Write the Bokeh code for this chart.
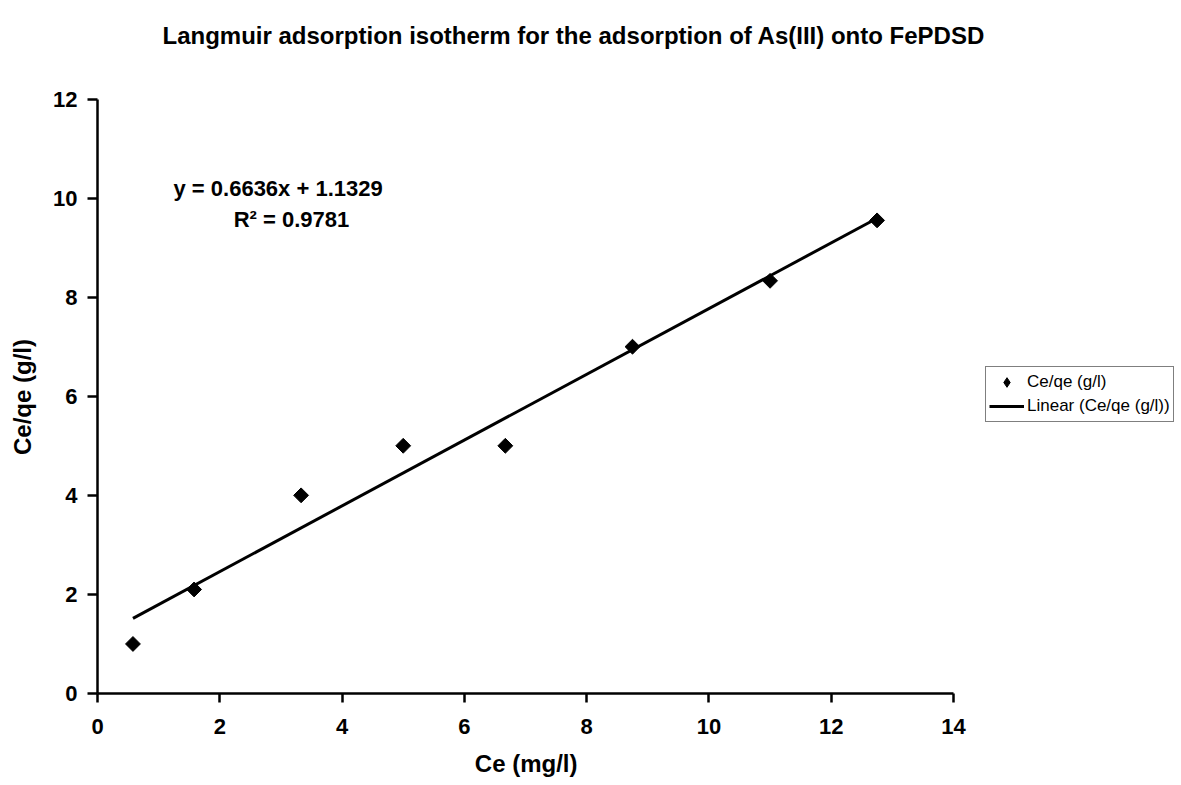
import numpy as np
from bokeh.plotting import figure
from bokeh.models import Range1d, FixedTicker, Label, Legend, LegendItem
from bokeh.embed import file_html
from bokeh.resources import INLINE

# ---- data ----
ce = [0.58, 1.58, 3.33, 5.0, 6.67, 8.75, 11.0, 12.75]          # Ce (mg/l)
ce_qe = [1.0, 2.1, 4.0, 5.0, 5.0, 7.0, 8.33, 9.55]             # Ce/qe (g/l)
slope = 0.6636
intercept = 1.1329
r2 = 0.9781
x_ticks = [0, 2, 4, 6, 8, 10, 12, 14]
y_ticks = [0, 2, 4, 6, 8, 10, 12]
x_axis_max = 14
y_axis_max = 12
title_text = "Langmuir adsorption isotherm for the adsorption of As(III) onto FePDSD"

FONT = "Liberation Sans"
W, H = 1181, 785
# pixel geometry of the axes (left/bottom of frame, where the axes end)
FL, FB = 97, 693
AX_R, AX_T = 953, 98.5
x_end = x_axis_max * (W - FL) / (AX_R - FL)
y_end = y_axis_max * FB / (FB - AX_T)

p = figure(width=W, height=H, output_backend="svg", toolbar_location=None,
           x_range=Range1d(0, x_end), y_range=Range1d(0, y_end),
           min_border_left=FL, min_border_right=0,
           min_border_top=0, min_border_bottom=H - FB)
p.outline_line_color = None
p.xgrid.visible = False
p.ygrid.visible = False
p.background_fill_color = "white"
p.border_fill_color = "white"

for ax, ticks in ((p.xaxis[0], x_ticks), (p.yaxis[0], y_ticks)):
    ax.ticker = FixedTicker(ticks=ticks)
    ax.minor_tick_line_color = None
    ax.major_tick_in = 0
    ax.axis_line_width = 2.5
    ax.major_tick_line_width = 2.5
    ax.axis_line_color = "black"
    ax.major_tick_line_color = "black"
    ax.major_label_text_font = FONT
    ax.major_label_text_font_style = "bold"
    ax.major_label_text_font_size = "22px"
    ax.major_label_text_color = "black"
    ax.axis_label_text_font = FONT
    ax.axis_label_text_font_style = "bold"
    ax.axis_label_text_font_size = "24px"
    ax.axis_label_text_color = "black"

p.xaxis.bounds = (0, x_axis_max)
p.yaxis.bounds = (0, y_axis_max)
NB = "\u00a0"
p.xaxis.axis_label = "Ce (mg/l)" + NB * 34
p.yaxis.axis_label = "Ce/qe (g/l)" + NB * 15
p.xaxis.major_tick_out = 9
p.yaxis.major_tick_out = 10
p.xaxis.major_label_standoff = 16
p.yaxis.major_label_standoff = 10
p.xaxis.axis_label_standoff = 13
p.yaxis.axis_label_standoff = 14

# trendline
xl = np.array([min(ce), max(ce)])
yl = slope * xl + intercept
ln = p.line(xl, yl, line_color="black", line_width=3)

# legend-only diamond glyph (zero size on the plot, symbol drawn in legend)
sc_leg = p.scatter(ce, ce_qe, marker="diamond", size=0,
                   fill_color="black", line_color="black")
sc = p.scatter(ce, ce_qe, marker="square", angle=np.pi / 4, size=10.5,
               fill_color="black", line_color="black")

legend = Legend(items=[LegendItem(label="Ce/qe (g/l)", renderers=[sc_leg]),
                       LegendItem(label="Linear (Ce/qe (g/l))", renderers=[ln])],
                location=(985 - FL, FB - 422))
legend.label_text_font = FONT
legend.label_text_font_size = "17px"
legend.label_text_color = "black"
legend.glyph_width = 35
legend.glyph_height = 24
legend.label_standoff = 3
legend.padding = 3
legend.spacing = 0
legend.margin = 0
legend.border_line_color = "black"
legend.border_line_width = 1
legend.background_fill_color = "white"
p.add_layout(legend, "center")

# title
p.add_layout(Label(x=162 - FL, y=FB - 35, x_units="screen", y_units="screen",
                   text=title_text, text_font=FONT, text_font_style="bold",
                   text_font_size="24px", text_align="left",
                   text_baseline="alphabetic", text_color="black"))

# trendline equation
p.add_layout(Label(x=173 - FL, y=FB - 188, x_units="screen", y_units="screen",
                   text=f"y = {slope}x + {intercept}", text_font=FONT,
                   text_font_style="bold", text_font_size="22px",
                   text_align="left", text_baseline="alphabetic", text_color="black"))
p.add_layout(Label(x=291 - FL, y=FB - 219, x_units="screen", y_units="screen",
                   text=f"R\u00b2 = {r2}", text_font=FONT,
                   text_font_style="bold", text_font_size="22px",
                   text_align="center", text_baseline="alphabetic", text_color="black"))

open("out.html", "w").write(file_html(p, INLINE))
